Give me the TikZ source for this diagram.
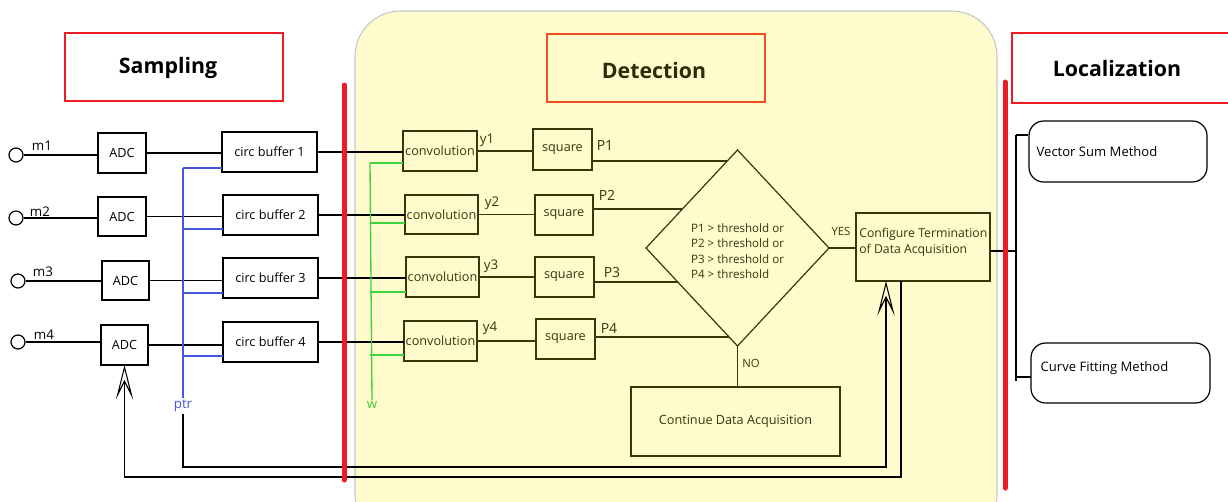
\documentclass[tikz,border=0pt]{standalone}
\usepackage{fontspec}
\setmainfont{Open Sans}
\usetikzlibrary{arrows.meta,shapes.geometric,calc}
\definecolor{redl}{RGB}{237,28,36}
\definecolor{detred}{RGB}{240,78,35}
\definecolor{yel}{RGB}{255,251,204}
\definecolor{olv}{RGB}{55,55,10}
\definecolor{bluel}{RGB}{70,85,220}
\definecolor{greenl}{RGB}{60,210,60}
\begin{document}
\begin{tikzpicture}[x=0.75pt,y=-0.75pt,
  box/.style={draw, line width=0.9pt, inner sep=0pt, outer sep=0pt, font=\fontsize{9.5}{11}\selectfont},
  dbox/.style={box, draw=olv, text=olv},
  conn/.style={line width=1.3pt},
  dconn/.style={conn, draw=olv},
  titlebox/.style={draw, line width=2.2pt, inner sep=0pt, font=\fontsize{16}{18}\selectfont\bfseries},
  titletext/.style={font=\fontsize{16}{18}\selectfont\bfseries},
  lbl/.style={font=\fontsize{10}{12}\selectfont, inner sep=1pt},
  dlbl/.style={lbl, text=olv},
  mic/.style={circle, draw, line width=0.9pt, minimum size=10.5pt, inner sep=0pt},
  fb/.style={line width=1.2pt, -{Stealth[open, length=26pt, width=13pt, inset=13pt, line width=0.8pt]}},
  sep/.style={redl, line width=3.75pt, line cap=round},
  rbox/.style={draw, line width=0.9pt, rounded corners=11pt, inner sep=0pt},
  rtext/.style={font=\fontsize{9.8}{12}\selectfont, anchor=west, inner sep=0pt}
]
\useasboundingbox (0,0) rectangle (1228,501);
\clip (0,0) rectangle (1228,501);
\fill[white] (0,0) rectangle (1228,501);

% yellow detection region
\draw[fill=yel, draw=gray!45, line width=0.8pt, rounded corners=34pt] (355,11) rectangle (997,540);

% titles
\node[titlebox, draw=redl, minimum width=163.5pt, minimum height=51pt] (samp) at (174,67) {};
\node[titletext] (samptext) at (168,68) {Sampling};
\node[titlebox, draw=detred, minimum width=163.5pt, minimum height=51pt] (det) at (656,68) {};
\node[titletext, text=olv!80!black] (dettext) at (654,70) {Detection};
\node[titlebox, draw=redl, minimum width=165pt, minimum height=52.5pt] (loc) at (1122,68) {};
\node[titletext] (loctext) at (1117,68) {Localization};

% microphones
\node[mic] (c1) at (16,155) {};
\node[mic] (c2) at (16,218) {};
\node[mic] (c3) at (18,281) {};
\node[mic] (c4) at (18,342) {};
\node[lbl] (m1) at (42,146) {m1};
\node[lbl] (m2) at (40,212) {m2};
\node[lbl] (m3) at (43,272) {m3};
\node[lbl] (m4) at (44,335) {m4};

% ADCs
\node[box, minimum width=36pt, minimum height=30pt] (adc1) at (122,153) {ADC};
\node[box, minimum width=36pt, minimum height=29.25pt] (adc2) at (122,216.5) {ADC};
\node[box, minimum width=35.25pt, minimum height=29.25pt] (adc3) at (125.5,280.5) {ADC};
\node[box, minimum width=35.25pt, minimum height=30pt] (adc4) at (124.5,345) {ADC};

% circular buffers
\node[box, minimum width=71.25pt, minimum height=30pt] (cb1) at (269.5,152) {circ buffer 1};
\node[box, minimum width=71.25pt, minimum height=30pt] (cb2) at (270.5,215) {circ buffer 2};
\node[box, minimum width=71.25pt, minimum height=30pt] (cb3) at (270.5,278) {circ buffer 3};
\node[box, minimum width=71.25pt, minimum height=30pt] (cb4) at (270.5,342) {circ buffer 4};

\foreach \i in {1,2,3,4}{
  \draw[conn] (c\i.east) -- (c\i.east -| adc\i.west);
  \draw[conn] (adc\i.east) -- (adc\i.east -| cb\i.west);
}

% convolution
\node[dbox, minimum width=55.5pt, minimum height=30pt] (conv1) at (440,151) {convolution};
\node[dbox, minimum width=54.75pt, minimum height=29.25pt] (conv2) at (441.5,214.5) {convolution};
\node[dbox, minimum width=54.75pt, minimum height=30pt] (conv3) at (442.5,277) {convolution};
\node[dbox, minimum width=54.75pt, minimum height=30pt] (conv4) at (440.5,341) {convolution};

% squares
\node[dbox, minimum width=44.25pt, minimum height=30.75pt] (sq1) at (562.5,149.5) {square};
\node[dbox, minimum width=43.5pt, minimum height=30pt] (sq2) at (564,215) {square};
\node[dbox, minimum width=44.25pt, minimum height=30pt] (sq3) at (564.5,277) {square};
\node[dbox, minimum width=44.25pt, minimum height=30pt] (sq4) at (565.5,339) {square};

\foreach \i in {1,2,3,4}{
  \draw[conn] (cb\i.east) -- (cb\i.east -| conv\i.west);
  \draw[dconn] (conv\i.east) -- (conv\i.east -| sq\i.west);
}

\node[dlbl] (y1) at (487,140) {y1};
\node[dlbl] (y2) at (492,203) {y2};
\node[dlbl] (y3) at (491,266) {y3};
\node[dlbl] (y4) at (490,328) {y4};
\node[dlbl, font=\fontsize{10.5}{12}\selectfont] (P1) at (605,145) {P1};
\node[dlbl, font=\fontsize{10.5}{12}\selectfont] (P2) at (607,195) {P2};
\node[dlbl, font=\fontsize{10.5}{12}\selectfont] (P3) at (612,272) {P3};
\node[dlbl, font=\fontsize{10.5}{12}\selectfont] (P4) at (609,328) {P4};

% decision
\node[diamond, draw=olv, line width=0.9pt, minimum width=137.25pt, minimum height=147pt, inner sep=0pt, outer sep=0pt] (dia) at (737.5,248) {};
\node[align=left, text=olv, font=\fontsize{8.7}{11.6}\selectfont, inner sep=0pt] (dtext) at (737.5,251) {P1 > threshold or\\P2 > threshold or\\P3 > threshold or\\P4 > threshold};

\coordinate (d1) at ($(dia.north)!0.112!(dia.west)$);
\coordinate (d2) at ($(dia.north)!0.602!(dia.west)$);
\coordinate (d3) at ($(dia.west)!0.347!(dia.south)$);
\coordinate (d4) at ($(dia.west)!0.908!(dia.south)$);
\draw[dconn] (d1 -| sq1.east) -- (d1);
\draw[dconn] (d2 -| sq2.east) -- (d2);
\draw[dconn] (d3 -| sq3.east) -- (d3);
\draw[dconn] (d4 -| sq4.east) -- (d4);

\node[dbox, minimum width=100.5pt, minimum height=51pt] (config) at (923,247) {};
\node[align=left, text=olv, font=\fontsize{9.2}{12}\selectfont, inner sep=0pt, anchor=west] (ctext) at ($(config.west)+(3,-5)$) {Configure Termination\\of Data Acquisition};
\node[dbox, minimum width=156.75pt, minimum height=51.75pt] (cont) at (735.5,421.5) {Continue Data Acquisition};

\draw[dconn] (dia.east) -- (dia.east -| config.west);
\draw[dconn] (dia.south) -- (dia.south |- cont.north);
\node[dlbl, font=\fontsize{8.5}{10}\selectfont] (yes) at (841,231) {YES};
\node[dlbl, font=\fontsize{8.5}{10}\selectfont] (no) at (751,363) {NO};

% pointer and weight lines
\node[lbl, text=bluel] (ptr) at (183,406) {ptr};
\node[lbl, text=greenl] (w) at (372,405) {w};
\coordinate (ptop) at (183,168);
\draw[bluel, line width=1pt] (ptop) -- (ptr.north);
\foreach \i/\d in {1/4,2/6,3/5,4/6}{
  \coordinate (pb\i) at ($(cb\i.south west)+(0,-\d)$);
  \draw[bluel, line width=1pt] (pb\i) -- (pb\i -| ptop);
}
\coordinate (wtop) at (370,163);
\draw[greenl, line width=1pt] (wtop) -- (w.north);
\foreach \i/\d in {1/8,2/11,3/5,4/6}{
  \coordinate (wb\i) at ($(conv\i.south west)+(0,-\d)$);
  \draw[greenl, line width=1pt] (wb\i) -- (wb\i -| wtop);
}

% feedback
\coordinate (cfgin) at ($(config.south west)+(30,0)$);
\coordinate (cfgout) at ($(config.south west)+(45,0)$);
\coordinate (b1) at (886,467);
\coordinate (b2) at (901,477);
\draw[fb, draw=black] (ptr.south) |- (b1) -- (cfgin);
\draw[fb, draw=black] (cfgout) -- (b2) -| (adc4.south);

% localization
\node[rbox, minimum width=133.5pt, minimum height=45.75pt] (vsm) at (1118,151.5) {};
\node[rtext] (vsmt) at ($(vsm.west)+(8,0)$) {Vector Sum Method};
\node[rbox, minimum width=134.25pt, minimum height=45pt] (cfm) at (1120.5,373) {};
\node[rtext] (cfmt) at ($(cfm.west)+(10,-5)$) {Curve Fitting Method};
\coordinate (tr1) at (1016,135);
\coordinate (tr2) at (1016,381);
\coordinate (cfmin) at ($(cfm.west)+(1,4)$);
\coordinate (cfgo) at ($(config.east)+(0,4)$);
\draw[line width=1.2pt] (tr1) -- (tr2);
\draw[line width=1.2pt] (tr1) -- (tr1 -| vsm.west);
\draw[line width=1.2pt] (cfmin -| tr1) -- (cfmin);
\draw[line width=2pt] (cfgo) -- (cfgo -| tr1);

% separators
\draw[sep] (344,85) -- (344,480);
\draw[sep] (1005,82) -- (1005,488);
\end{tikzpicture}
\end{document}
